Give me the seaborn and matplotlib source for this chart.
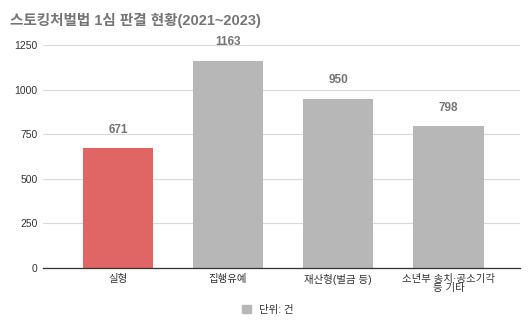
import matplotlib
matplotlib.use("Agg")
import matplotlib.pyplot as plt
import seaborn as sns
import pandas as pd
from matplotlib.patches import Patch

categories = ["실형", "집행유예", "재산형(벌금 등)", "소년부 송치·공소기각\n등 기타"]
values = [671, 1163, 950, 798]
colors = ["#e06666", "#b7b7b7", "#b7b7b7", "#b7b7b7"]
yticks = [0, 250, 500, 750, 1000, 1250]
title = "스토킹처벌법 1심 판결 현황(2021~2023)"
legend_label = "단위: 건"

sns.set_theme(style="white")
plt.rcParams['font.family'] = ['Liberation Sans', 'Noto Sans CJK KR', 'DejaVu Sans']

df = pd.DataFrame({"cat": categories, "val": values})

fig = plt.figure(figsize=(5.30, 3.21), dpi=100)
ax = fig.add_axes([43/530, 53/321, 477/530, 223/321])
sns.barplot(data=df, x="cat", y="val", hue="cat", palette=colors, legend=False,
            width=0.64, ax=ax, saturation=1, linewidth=0)
ax.set_xlim(-0.68, 3.65)
ax.set_ylim(0, 1250)
ax.set_yticks(yticks)
ax.set_yticklabels([str(t) for t in yticks], fontsize=7.5, color="#333333")
ax.tick_params(axis='y', length=0, pad=4)
ax.tick_params(axis='x', length=0, pad=4, labelsize=7.5, colors="#333333")
for lbl in ax.get_xticklabels():
    lbl.set_linespacing(0.9)
ax.grid(axis='y', color="#d9d9d9", linewidth=0.8)
ax.set_axisbelow(True)
for s in ["top", "right", "left"]:
    ax.spines[s].set_visible(False)
ax.spines["bottom"].set_color("#333333")
ax.spines["bottom"].set_linewidth(0.9)
ax.set_xlabel("")
ax.set_ylabel("")
for i, v in enumerate(values):
    ax.annotate(str(v), (i, v), xytext=(0, 13), textcoords="offset points",
                ha="center", va="center", fontsize=8.5,
                fontweight="bold", color="#757575")
fig.text(10/530, 1 - 20/321, title, fontsize=10.5, fontweight="bold",
         color="#757575", va="center", ha="left")
fig.legend(handles=[Patch(color="#b7b7b7", label=legend_label)],
           loc="center", bbox_to_anchor=(268/530, 1 - 310/321), frameon=False,
           fontsize=7.5, handlelength=0.8, handleheight=0.8, labelcolor="#333333")
fig.savefig("out.png", dpi=100)
